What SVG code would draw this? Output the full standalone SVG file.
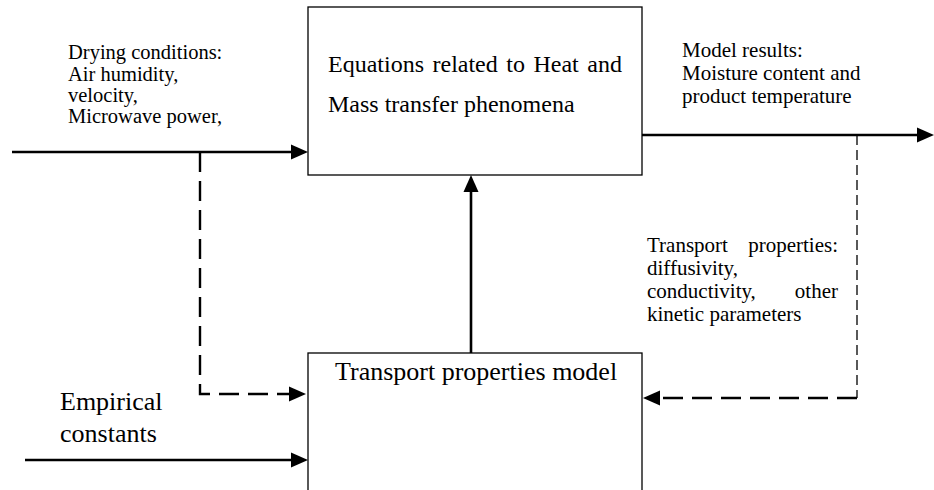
<svg xmlns="http://www.w3.org/2000/svg" width="934" height="490" viewBox="0 0 934 490">
<style>
  text { font-family: "Liberation Serif", "Times New Roman", serif; fill: #000; }
  .box { fill: #fff; stroke: #000; stroke-width: 1.3; }
  .solid { fill: none; stroke: #000; stroke-width: 2.6; }
  .dash { fill: none; stroke: #000; stroke-width: 2.4; stroke-dasharray: 20 9; }
  .dashthin { fill: none; stroke: #000; stroke-width: 1.3; stroke-dasharray: 10 5; }
  .head { fill: #000; stroke: none; }
  .s21 { font-size: 21px; }
  .s20 { font-size: 20.5px; }
  .end { text-anchor: end; }
</style>
<rect width="934" height="490" fill="#fff"/>
<g id="node-equations">
  <rect class="box" x="308" y="7" width="334" height="168"/>
  <text x="328" y="72" font-size="24" word-spacing="2.5">Equations related to Heat and</text>
  <text x="328" y="112" font-size="24">Mass transfer phenomena</text>
</g>
<g id="node-transport-model">
  <rect class="box" x="308" y="353" width="334" height="160"/>
  <text x="335" y="380" font-size="26">Transport properties model</text>
</g>
<g id="label-drying">
  <text class="s20" x="68" y="59">Drying conditions:</text>
  <text class="s20" x="68" y="80.5">Air humidity,</text>
  <text class="s20" x="68" y="102">velocity,</text>
  <text class="s20" x="68" y="123">Microwave power,</text>
</g>
<g id="label-results">
  <text class="s21" x="682" y="57">Model results:</text>
  <text class="s21" x="682" y="80">Moisture content and</text>
  <text class="s21" x="682" y="103">product temperature</text>
</g>
<g id="label-properties">
  <text class="s21" x="647" y="252">Transport</text>
  <text class="s21 end" x="838" y="252">properties:</text>
  <text class="s21" x="647" y="275">diffusivity,</text>
  <text class="s21" x="647" y="298">conductivity,</text>
  <text class="s21 end" x="838" y="298">other</text>
  <text class="s21" x="647" y="321">kinetic parameters</text>
</g>
<g id="label-empirical">
  <text x="60" y="410" font-size="26">Empirical</text>
  <text x="60" y="442" font-size="26">constants</text>
</g>
<g id="connectors">
  <line class="solid" x1="12" y1="152" x2="292" y2="152"/>
  <polygon class="head" points="308,152 291,144.5 291,159.5"/>
  <polyline class="dash" points="200,152 200,394 290,394"/>
  <polygon class="head" points="306,394 289,386.5 289,401.5"/>
  <line class="solid" x1="25" y1="460" x2="292" y2="460"/>
  <polygon class="head" points="308,460 291,452.5 291,467.5"/>
  <line class="solid" x1="471" y1="353" x2="471" y2="190"/>
  <polygon class="head" points="471,175 463.5,192 478.5,192"/>
  <line class="solid" x1="642" y1="135" x2="918" y2="135"/>
  <polygon class="head" points="934,135 917,127.5 917,142.5"/>
  <line class="dashthin" x1="857" y1="135" x2="857" y2="398"/>
  <line class="dash" x1="857" y1="398" x2="658" y2="398" stroke-width="2.8"/>
  <polygon class="head" points="643,398 660,390.5 660,405.5"/>
</g>
</svg>
